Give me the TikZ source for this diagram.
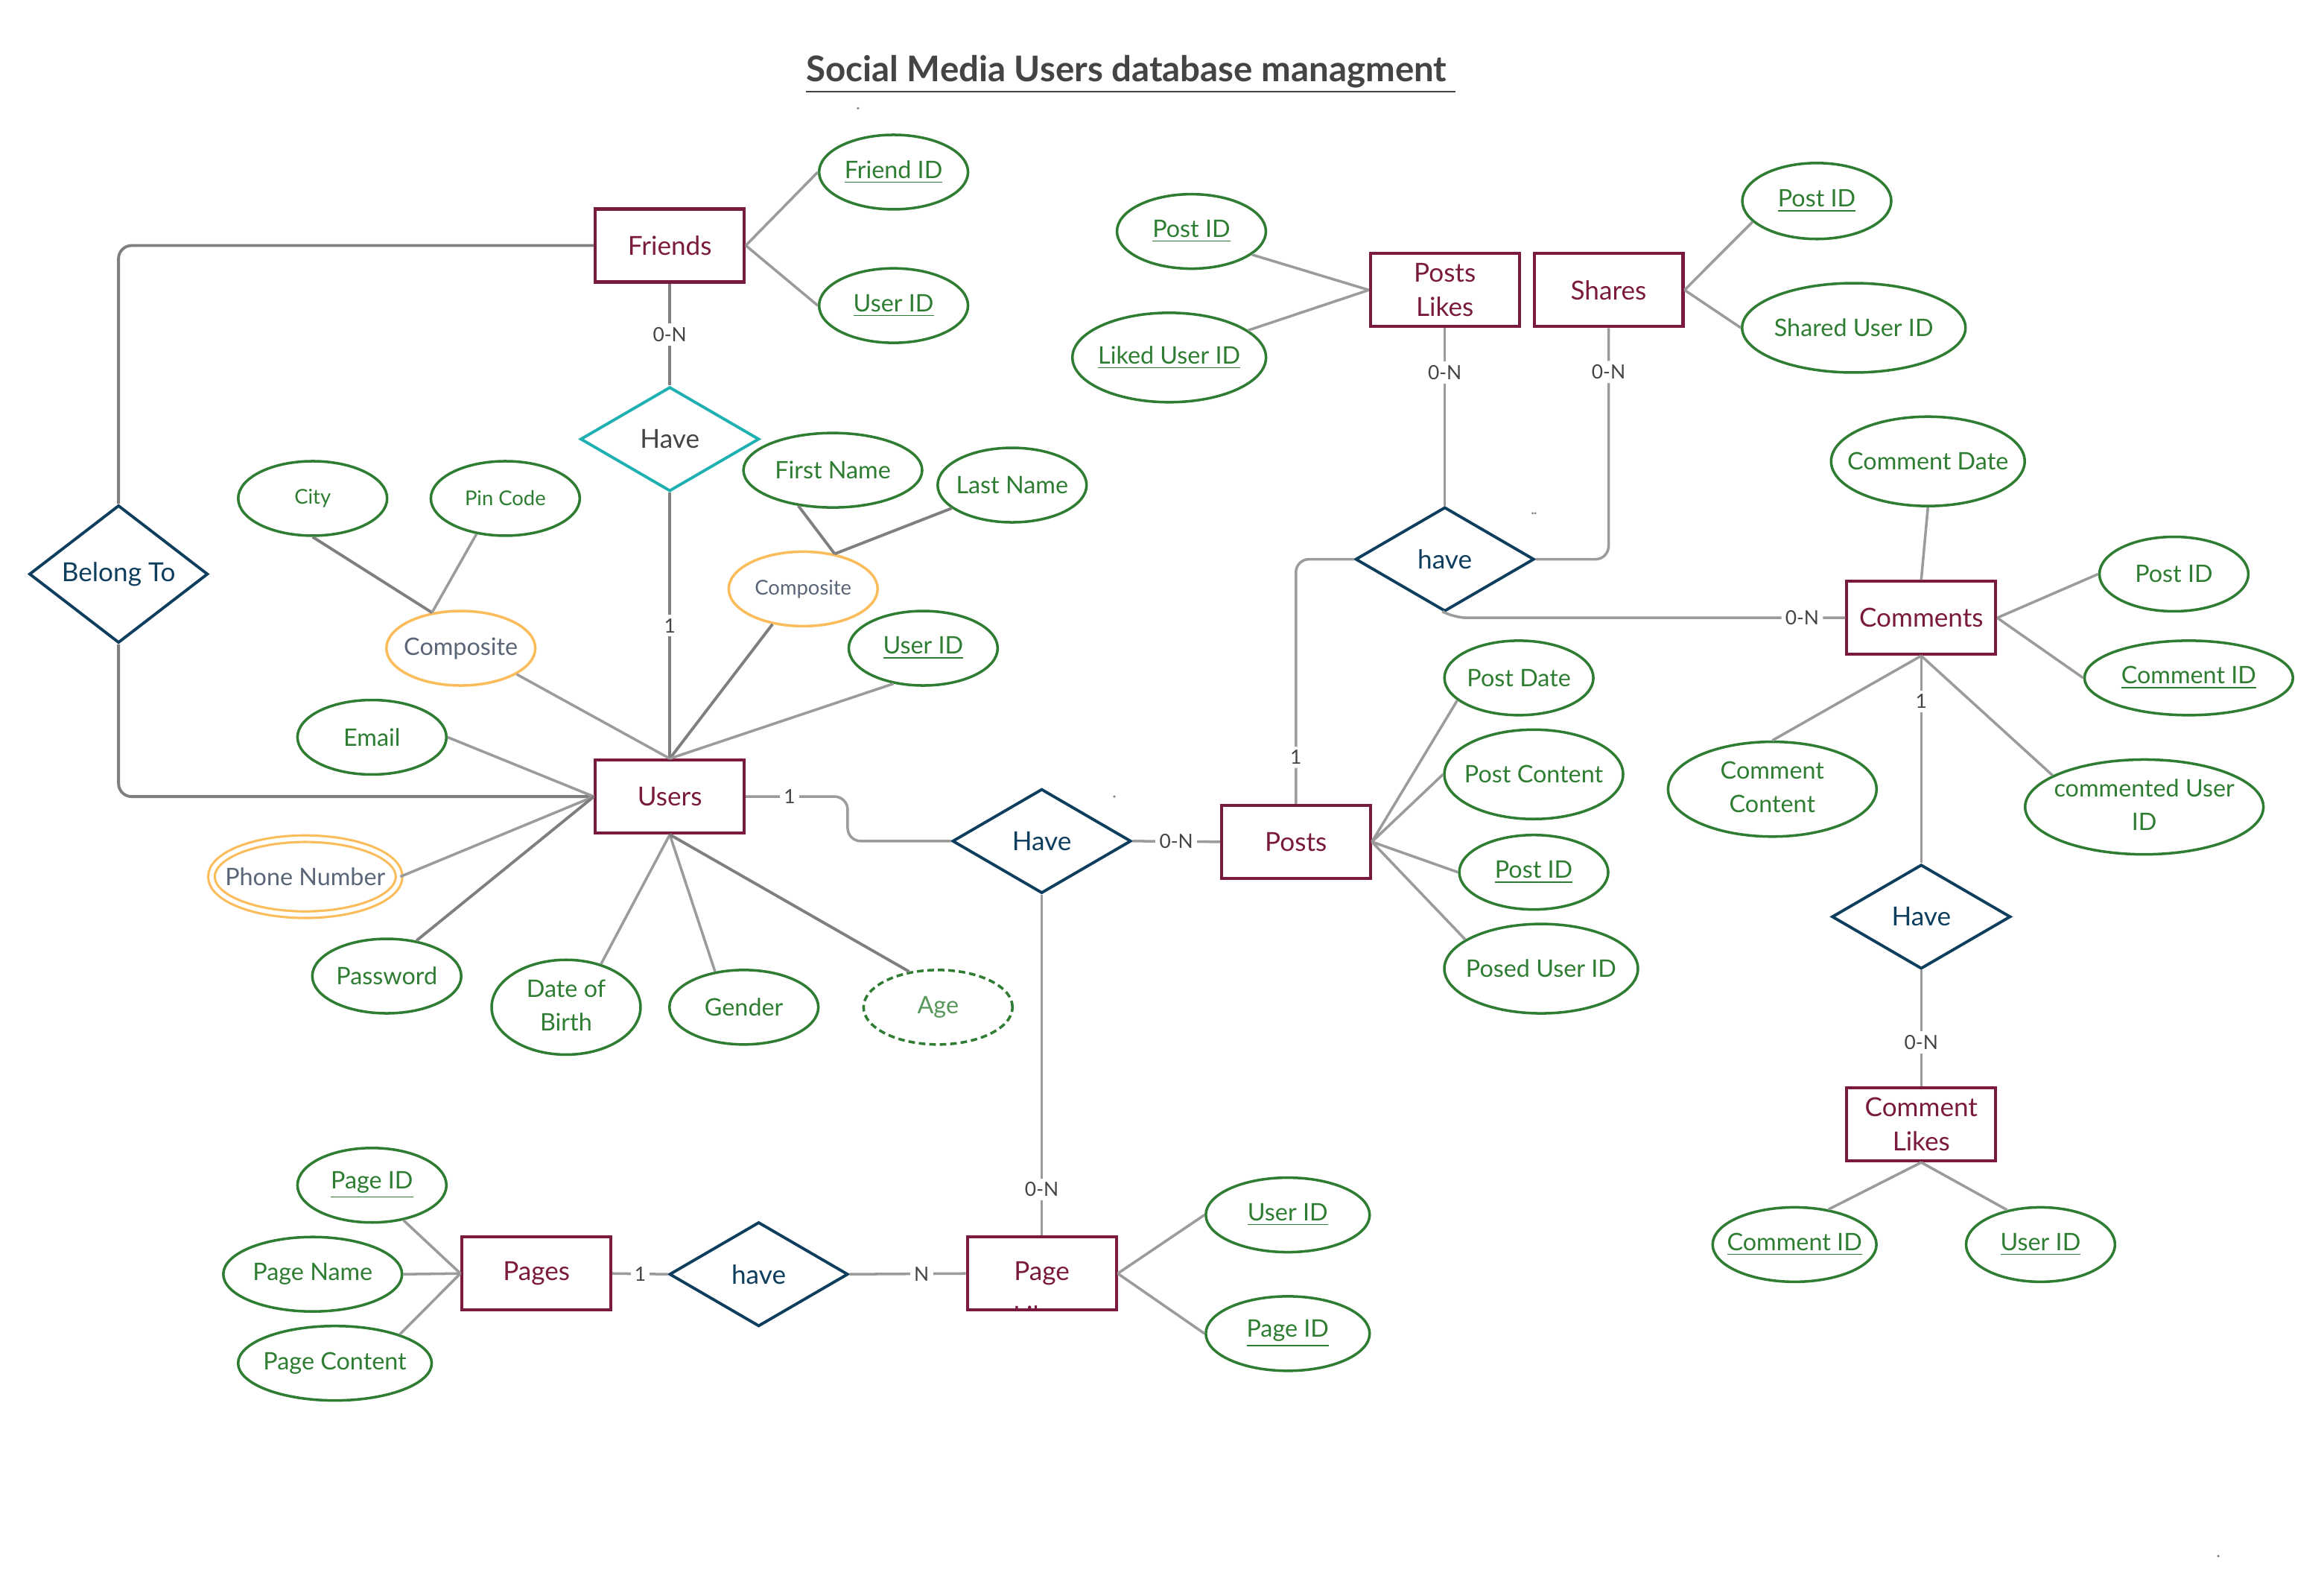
\documentclass[tikz,border=0pt]{standalone}
\usepackage{fontspec}
\setmainfont{Lato}
\usetikzlibrary{shapes.geometric}
\definecolor{entc}{HTML}{7A1A3E}
\definecolor{relc}{HTML}{0E3E5E}
\definecolor{tealc}{HTML}{1FB0B2}
\definecolor{attc}{HTML}{2E7D32}
\definecolor{orc}{HTML}{FBBD5C}
\definecolor{compc}{HTML}{5A6678}
\definecolor{linec}{HTML}{9B9B9B}
\definecolor{dlinec}{HTML}{7F7F7F}
\definecolor{lblc}{HTML}{444444}
\newcommand{\zt}[1]{\makebox[0pt]{#1}}
\newcommand{\zz}[2]{\makebox[0pt]{\begin{tabular}{@{}c@{}}#1\\#2\end{tabular}}}
\begin{document}
\begin{tikzpicture}[x=0.019893cm,y=-0.019913cm,
 ent/.style={draw=entc, line width=1.15pt, minimum width=2cm, minimum height=0.98cm, text=entc, font=\fontsize{10}{13}\selectfont, align=center, inner sep=0pt},
 rel/.style={diamond, draw=relc, line width=1.1pt, minimum width=2.4cm, minimum height=1.4cm, inner sep=0pt, text=relc, font=\fontsize{10}{12}\selectfont},
 attr/.style={ellipse, draw=attc, line width=1pt, inner sep=0pt, text=attc, font=\fontsize{9.2}{12.8}\selectfont, minimum width=2cm, minimum height=1cm},
 sz/.style 2 args={minimum width=#1*0.04cm, minimum height=#2*0.04cm},
 small/.style={font=\fontsize{7.8}{10}\selectfont},
 comp/.style={draw=orc, text=compc},
 con/.style={draw=linec, line width=1pt},
 dcon/.style={draw=dlinec, line width=1.1pt},
 lbl/.style={fill=white, text=lblc, font=\fontsize{7.5}{9}\selectfont, inner sep=1.5pt},
 rc/.style={rounded corners=5pt}
]
\useasboundingbox (0,0) rectangle (1568.3,1069.6);
\fill[white] (0,0) rectangle (1568.3,1069.6);

% title
\node[font=\fontsize{13.5}{15}\selectfont\bfseries, text=lblc] (title) at (763,50) {\underline{Social Media Users database managment\ }};

% entities
\node[ent] (friends) at (452,165.5) {Friends};
\node[ent] (plikes) at (975,195.5) {Posts\\Likes};
\node[ent] (shares) at (1085.5,195.5) {Shares};
\node[ent] (users) at (452,537) {Users};
\node[ent] (posts) at (874.5,567.5) {Posts};
\node[ent] (comments) at (1296.5,416.5) {Comments};
\node[ent] (clikes) at (1296.5,758) {Comment\\Likes};
\node[ent] (pages) at (362,858.5) {Pages};
\node[ent] (pglikes) at (703,858.5) {};
\begin{scope}
\clip ([yshift=0.5pt]pglikes.south west) rectangle (pglikes.north east);
\node[text=entc, font=\fontsize{10}{13}\selectfont] (pgltxt) at (703,858.5) {Page};
\node[text=entc, font=\fontsize{10}{13}\selectfont] (pgltxt2) at (703,887) {Likes};
\end{scope}

% relationships
\node[rel, draw=tealc, text=lblc] (have1) at (452,296) {Have};
\node[rel] (belong) at (80,387) {Belong To};
\node[rel] (have2) at (975,377) {have};
\node[rel] (have3) at (703,567) {Have};
\node[rel] (have4) at (1296.5,618) {Have};
\node[rel] (have5) at (512,859) {have};

% attributes
\node[attr, sz={50}{25}] (fid) at (603,116) {\zt{\underline{Friend ID}}};
\node[attr, sz={50}{25}] (fuid) at (603,206) {\zt{\underline{User ID}}};
\node[attr, sz={50}{25}] (plpid) at (804,156) {\zt{\underline{Post ID}}};
\node[attr, sz={65}{30}] (pluid) at (789,241) {\zt{\underline{Liked User ID}}};
\node[attr, sz={50}{25.5}] (shpid) at (1226,135.5) {\zt{\underline{Post ID}}};
\node[attr, sz={75}{30}] (shuid) at (1251,221) {\zt{Shared User ID}};
\node[attr, sz={65}{30}] (cdate) at (1301,311) {\zt{Comment Date}};
\node[attr, sz={50}{25}] (cpid) at (1467,387) {\zt{Post ID}};
\node[attr, sz={70}{25}] (cid) at (1477,457) {\zt{\underline{Comment ID}}};
\node[attr, sz={70}{30}] (ccont) at (1196,532) {\zz{Comment}{Content}};
\node[attr, sz={80}{28}] (cuid) at (1447,544) {\zz{commented User}{ID}};
\node[attr, sz={50}{25}] (pdate) at (1025,457) {\zt{Post Date}};
\node[attr, sz={60}{30}] (pcont) at (1035,522) {\zt{Post Content}};
\node[attr, sz={50}{25}] (ppid) at (1035,588) {\zt{\underline{Post ID}}};
\node[attr, sz={65}{30}] (puid) at (1040,653) {\zt{Posed User ID}};
\node[attr, small, sz={50}{25}] (city) at (211,336) {\zt{City}};
\node[attr, small, sz={50}{25}] (pin) at (341,336) {\zt{Pin Code}};
\node[attr, comp, sz={50}{25}] (compa) at (311,437) {\zt{Composite}};
\node[attr, sz={60}{25}] (fname) at (562,317) {\zt{First Name}};
\node[attr, sz={50}{25}] (lname) at (683,327) {\zt{Last Name}};
\node[attr, comp, small, sz={50}{25}] (compb) at (542,397) {\zt{Composite}};
\node[attr, sz={50}{25}] (uid) at (623,437) {\zt{\underline{User ID}}};
\node[attr, sz={50}{25}] (email) at (251,497) {\zt{Email}};
\node[attr, comp, double=white, double distance=1.6pt, line width=0.9pt, sz={63}{25.5}] (phone) at (206,591) {\zt{Phone Number}};
\node[attr, sz={50}{25}] (pwd) at (261,658) {\zt{Password}};
\node[attr, sz={50}{25}] (dob) at (382,679) {\zz{Date of}{Birth}};
\node[attr, sz={50}{25}] (gender) at (502,679) {\zt{Gender}};
\node[attr, dashed, dash pattern=on 2.5pt off 1.5pt, text=attc!80!white, sz={50}{25}] (age) at (633,679) {\zt{Age}};
\node[attr, sz={50}{25}] (pgid) at (251,799) {\zt{\underline{Page ID}}};
\node[attr, sz={60}{25}] (pgname) at (211,859) {\zt{Page Name}};
\node[attr, sz={65}{25}] (pgcont) at (226,919) {\zt{Page Content}};
\node[attr, sz={55}{25}] (pluid2) at (869,819) {\zt{\underline{User ID}}};
\node[attr, sz={55}{25}] (plpgid) at (869,899) {\zt{\underline{Page ID}}};
\node[attr, sz={55}{25}] (clcid) at (1211,839) {\zt{\underline{Comment ID}}};
\node[attr, sz={50}{25}] (cluid) at (1377,839) {\zt{\underline{User ID}}};

% tiny dots
\fill[gray] (579,73) circle (0.5pt);
\fill[gray] (752,537) circle (0.5pt);
\fill[gray] (1034.3,346) circle (0.45pt);
\fill[gray] (1036,346) circle (0.45pt);
\fill[gray] (1497,1049) circle (0.5pt);

% connectors: Friends
\draw[con] (friends.east) -- (fid.west);
\draw[con] (friends.east) -- (fuid.west);
\draw[dcon] (friends.south) -- node[lbl]{0-N} (have1.north);
\draw[dcon] (have1.south) -- node[lbl]{1} (users.north);
\draw[dcon, rc] (friends.west) -| (belong.north);
\draw[dcon, rc] (belong.south) |- (users.west);

% Users attributes
\draw[dcon] (city.south) -- (compa.129);
\draw[con] (pin.231) -- (compa.129);
\draw[con] (compa.-25) -- (users.north);
\draw[dcon] (fname.226) -- (compb.48);
\draw[dcon] (lname.201) -- (compb.48);
\draw[dcon] (compb.229) -- (users.north);
\draw[con] (uid.230) -- (users.north);
\draw[con] (email.east) -- (users.west);
\draw[con] (phone.east) -- (users.west);
\draw[dcon] (pwd.50) -- (users.west);
\draw[con] (dob.51) -- (users.south);
\draw[con] (gender.129) -- (users.south);
\draw[dcon] (age.129) -- (users.south);

% Users - Have - Posts / Page Likes
\draw[con, rc] (users.east) -- node[lbl, pos=0.43]{1} (572,537) -- (572,567) -- (have3.west);
\draw[con] (have3.east) -- node[lbl]{0-N} (posts.west);
\draw[con] (have3.south) -- node[lbl, pos=0.865]{0-N} (pglikes.north);

% Posts attributes
\draw[con] (posts.east) -- (pdate.200);
\draw[con] (posts.east) -- (pcont.west);
\draw[con] (posts.east) -- (ppid.west);
\draw[con] (posts.east) -- (puid.159);

% Posts likes / shares
\draw[con] (plikes.west) -- (plpid.-21);
\draw[con] (plikes.west) -- (pluid.19);
\draw[con] (shares.east) -- (shpid.198);
\draw[con] (shares.east) -- (shuid.west);
\draw[con] (plikes.south) -- node[lbl, pos=0.25]{0-N} (have2.north);
\draw[con, rc] (shares.south) -- node[lbl, pos=0.19]{0-N} (1085.5,377) -- (have2.east);
\draw[con, rc] (posts.north) -- node[lbl, pos=0.19]{1} (874.5,377) -- (have2.west);
\draw[con, rc] (have2.south) -- (981,416.5) -- node[lbl, pos=0.89]{0-N} (comments.west);

% Comments
\draw[con] (comments.north) -- (cdate.south);
\draw[con] (comments.east) -- (cpid.west);
\draw[con] (comments.east) -- (cid.west);
\draw[con] (comments.south) -- (ccont.north);
\draw[con] (comments.south) -- (cuid.161);
\draw[con] (comments.south) -- node[lbl, pos=0.22]{1} (have4.north);
\draw[con] (have4.south) -- node[lbl, pos=0.62]{0-N} (clikes.north);
\draw[con] (clikes.south) -- (clcid.46);
\draw[con] (clikes.south) -- (cluid.134);

% Pages
\draw[con] (pages.west) -- (pgid.-48);
\draw[con] (pages.west) -- (pgname.east);
\draw[con] (pages.west) -- (pgcont.24);
\draw[con] (pages.east) -- node[lbl]{1} (have5.west);
\draw[con] (have5.east) -- node[lbl, pos=0.62]{N} (pglikes.west);
\draw[con] (pglikes.east) -- (pluid2.west);
\draw[con] (pglikes.east) -- (plpgid.west);
\end{tikzpicture}
\end{document}
